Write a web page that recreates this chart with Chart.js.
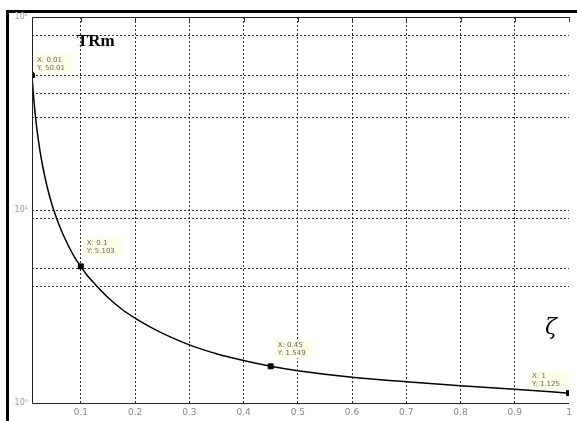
<!DOCTYPE html>
<html>
<head>
<meta charset="utf-8">
<script src="https://cdn.jsdelivr.net/npm/chart.js@4.4.0/dist/chart.umd.min.js"></script>
<style>
  html, body { margin: 0; padding: 0; background: #fff; }
  #wrap { width: 577px; height: 421px; }
</style>
</head>
<body>
<div id="wrap"><canvas id="trChart" width="577" height="421"></canvas></div>
<script>
// damping ratio vs. max transmissibility
const zeta = [0.01, 0.0125, 0.015, 0.0175, 0.02, 0.025, 0.03, 0.035, 0.04, 0.045, 0.05, 0.06, 0.07, 0.08, 0.09, 0.1,
              0.11, 0.125, 0.15, 0.175, 0.2, 0.225, 0.25, 0.3, 0.35, 0.4, 0.45, 0.5, 0.6, 0.7, 0.8, 0.9, 1.0];
const trMax = [50.0, 40.0, 33.3, 28.6, 25.0, 20.0, 16.7, 14.3, 12.5, 11.1, 10.0, 8.37, 7.18, 6.3, 5.6, 5.1,
               4.65, 4.16, 3.52, 3.07, 2.75, 2.5, 2.3, 2.0, 1.8, 1.66, 1.55, 1.47, 1.36, 1.29, 1.23, 1.18, 1.125];

// data tips
const tipX = [0.01, 0.1, 0.45, 1];
const tipY = [50.01, 5.103, 1.549, 1.125];
const tipLabels = [['X: 0.01', 'Y: 50.01'], ['X: 0.1', 'Y: 5.103'], ['X: 0.45', 'Y: 1.549'], ['X: 1', 'Y: 1.125']];

// axis ticks
const xTicks = [0.1, 0.2, 0.3, 0.4, 0.5, 0.6, 0.7, 0.8, 0.9, 1];
const xTickLabels = ['0.1', '0.2', '0.3', '0.4', '0.5', '0.6', '0.7', '0.8', '0.9', '1'];
const yGrid = [1, 4, 5, 9, 10, 30, 40, 50, 80, 100];
const yTickLabels = { 1: '10⁰', 10: '10¹', 100: '10²' };

// Frame, plot box, titles and data tips
const decorPlugin = {
    id: 'decor',
    beforeDraw(chart) {
        const ctx = chart.ctx;
        ctx.save();
        ctx.fillStyle = '#fff';
        ctx.fillRect(0, 0, chart.width, chart.height);
        ctx.fillStyle = '#000';
        ctx.fillRect(6, 10, 3, chart.height - 10);
        ctx.fillRect(6, 10, chart.width - 6, 3);
        ctx.restore();
    },
    afterDraw(chart) {
        const ctx = chart.ctx;
        const a = chart.chartArea;
        const xs = chart.scales.x, ys = chart.scales.y;
        ctx.save();
        // plot box edges
        ctx.setLineDash([]);
        ctx.strokeStyle = '#222';
        ctx.lineWidth = 1;
        ctx.beginPath();
        ctx.moveTo(a.right, a.top + 0.5);
        ctx.lineTo(a.left + 0.5, a.top + 0.5);
        ctx.lineTo(a.left + 0.5, a.bottom + 0.5);
        ctx.lineTo(a.right, a.bottom + 0.5);
        ctx.stroke();

        // short tick marks at top of vertical grid lines
        ctx.strokeStyle = '#333';
        xTicks.forEach(v => {
            const px = Math.round(xs.getPixelForValue(v)) + 0.5;
            ctx.beginPath();
            ctx.moveTo(px, a.top);
            ctx.lineTo(px, a.top + 5);
            ctx.stroke();
        });

        ctx.fillStyle = '#000';
        ctx.font = 'bold 17px "Liberation Serif", "DejaVu Serif", serif';
        ctx.textBaseline = 'alphabetic';
        ctx.fillText('TRm', 77, 46);

        ctx.font = 'italic 22px "DejaVu Serif", "Liberation Serif", serif';
        ctx.fillText('ζ', 545, 334);

        // data tip boxes
        const offs = [[2, -21], [3, -29], [4, -27], [-40, -23]];
        ctx.font = '7px "DejaVu Sans", sans-serif';
        tipX.forEach((x, i) => {
            const px = xs.getPixelForValue(x);
            const py = ys.getPixelForValue(tipY[i]);
            const bx = px + offs[i][0], by = py + offs[i][1];
            ctx.fillStyle = 'rgba(255,255,230,0.95)';
            ctx.fillRect(bx, by, 38, 19);
            ctx.fillStyle = '#666';
            ctx.fillText(tipLabels[i][0], bx + 3, by + 8);
            ctx.fillText(tipLabels[i][1], bx + 3, by + 16);
        });
        ctx.restore();
    }
};

new Chart(document.getElementById('trChart'), {
    type: 'line',
    data: {
        datasets: [
            {
                label: 'TRm',
                data: zeta.map((z, i) => ({ x: z, y: trMax[i] })),
                borderColor: '#000',
                borderWidth: 1.5,
                pointRadius: 0,
                cubicInterpolationMode: 'monotone',
                fill: false
            },
            {
                label: 'tips',
                data: tipX.map((x, i) => ({ x: x, y: tipY[i] })),
                showLine: false,
                pointStyle: 'rect',
                pointRadius: 3.5,
                pointBackgroundColor: '#000',
                pointBorderColor: '#000'
            }
        ]
    },
    plugins: [decorPlugin],
    options: {
        responsive: false,
        animation: false,
        layout: { padding: { left: 0, top: 17, right: 8, bottom: 0 } },
        plugins: {
            legend: { display: false },
            tooltip: { enabled: false }
        },
        scales: {
            x: {
                type: 'linear',
                min: 0.01,
                max: 1,
                afterBuildTicks: s => { s.ticks = xTicks.map(v => ({ value: v })); },
                afterFit: s => { s.height = 18; },
                border: { display: false, dash: [2, 2] },
                grid: {
                    drawTicks: false,
                    lineWidth: 1,
                    color: c => (c.tick && c.tick.value === 1 ? 'rgba(0,0,0,0)' : '#333')
                },
                ticks: {
                    padding: 4,
                    color: '#888',
                    font: { size: 9, family: 'DejaVu Sans' },
                    maxRotation: 0,
                    autoSkip: false,
                    callback: (v, i) => xTickLabels[i]
                }
            },
            y: {
                type: 'logarithmic',
                min: 1,
                max: 100,
                afterBuildTicks: s => { s.ticks = yGrid.map(v => ({ value: v })); },
                afterFit: s => { s.width = 32; },
                border: { display: false, dash: [2, 2] },
                grid: {
                    drawTicks: false,
                    lineWidth: 1,
                    color: c => (c.tick && (c.tick.value === 1 || c.tick.value === 100) ? 'rgba(0,0,0,0)' : '#333')
                },
                ticks: {
                    padding: 4,
                    color: '#999',
                    font: { size: 8, family: 'DejaVu Sans' },
                    autoSkip: false,
                    callback: v => yTickLabels[v] || ''
                }
            }
        }
    }
});
</script>
</body>
</html>
